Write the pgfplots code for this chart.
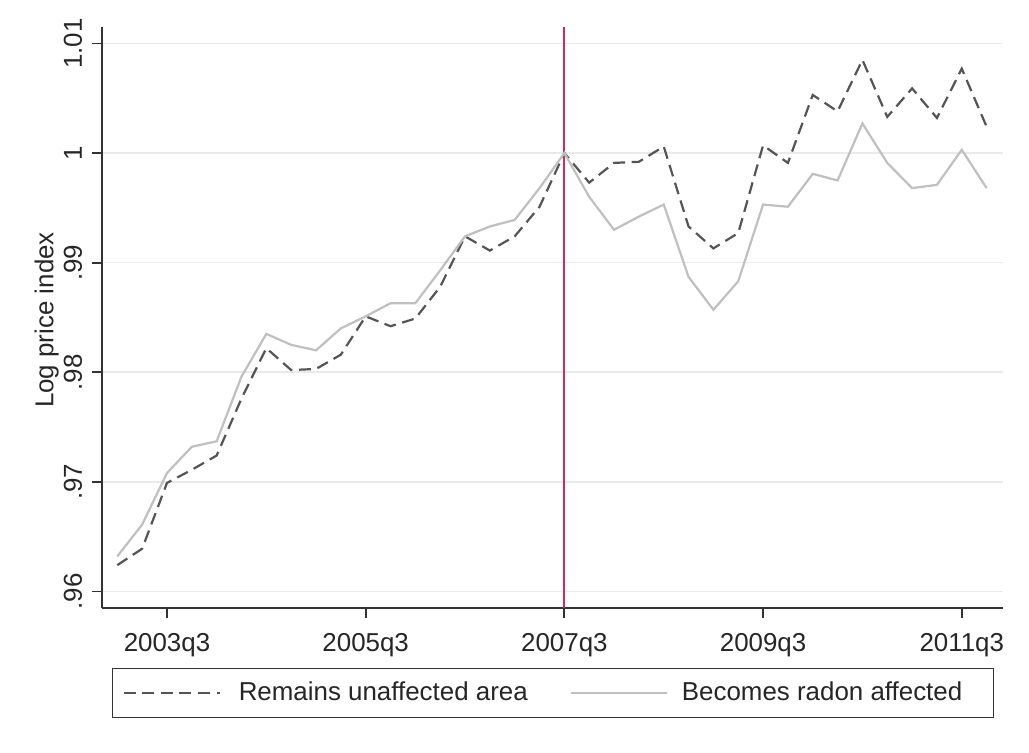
\documentclass[border=0pt]{standalone}
\usepackage{fontspec}
\setmainfont{Liberation Sans}
\usepackage{pgfplots}
\usepackage{pgfplotstable}
\pgfplotsset{compat=1.18}
\definecolor{dashc}{RGB}{85,85,85}
\definecolor{solidc}{RGB}{192,192,192}
\definecolor{vlinec}{RGB}{208,40,100}
\definecolor{axisc}{RGB}{50,50,50}
\definecolor{gridc}{RGB}{234,234,234}

\pgfplotstableread{
t una aff
0 0.9624 0.9632
1 0.9639 0.9661
2 0.9699 0.9708
3 0.9711 0.9732
4 0.9724 0.9737
5 0.9776 0.9796
6 0.9822 0.9835
7 0.9802 0.9825
8 0.9803 0.9820
9 0.9816 0.9840
10 0.9851 0.9851
11 0.9842 0.9863
12 0.9849 0.9863
13 0.9878 0.9893
14 0.9924 0.9924
15 0.9911 0.9933
16 0.9924 0.9939
17 0.9951 0.9968
18 1.0000 1.0000
19 0.9973 0.9960
20 0.9991 0.9930
21 0.9992 0.9942
22 1.0006 0.9953
23 0.9933 0.9887
24 0.9913 0.9857
25 0.9927 0.9883
26 1.0007 0.9953
27 0.9991 0.9951
28 1.0053 0.9981
29 1.0038 0.9975
30 1.0085 1.0027
31 1.0033 0.9991
32 1.0059 0.9968
33 1.0032 0.9971
34 1.0077 1.0003
35 1.0024 0.9968
}\data

\begin{document}
\begin{tikzpicture}
\useasboundingbox[fill=white] (-51bp,-72.5bp) rectangle (463.5bp,304bp);
\begin{axis}[
  scale only axis, width=450.5bp, height=290.5bp,
  xmin=-0.616, xmax=35.66, ymin=0.95849, ymax=1.0115,
  axis lines*=left,
  axis line style={color=axisc, line width=0.9bp},
  tick align=outside, major tick length=5bp,
  tick style={color=axisc, line width=0.9bp},
  xtick={2,10,18,26,34},
  xticklabels={2003q3,2005q3,2007q3,2009q3,2011q3},
  ytick={0.96,0.97,0.98,0.99,1,1.01},
  yticklabels={.96,.97,.98,.99,1,1.01},
  minor tick num=0,
  ymajorgrids, grid style={color=gridc, line width=0.75bp},
  ticklabel style={font=\fontsize{13}{15}\selectfont, text=black!85},
  xticklabel style={anchor=base, yshift=-16.5bp},
  yticklabel style={xshift=-5bp, rotate=90, anchor=base},
  ylabel={Log price index},
  ylabel style={at={(axis description cs:-0.05383,0.4957)}, anchor=base, font=\fontsize{13}{15}\selectfont, text=black!85},
  legend columns=2,
  legend image code/.code={\draw[#1] (0bp,0bp) -- (48bp,0bp);},
  legend style={at={(axis description cs:0.0111,-0.10327)}, anchor=north west,
    draw=black!80, line width=0.6bp, fill=white, inner xsep=5bp, inner ysep=6.75bp,
    font=\fontsize{13}{15}\selectfont, text=black!85, nodes={inner sep=0pt},
    /tikz/column 1/.style={column sep=9bp},
    /tikz/column 2/.style={column sep=21bp},
    /tikz/column 3/.style={column sep=7bp}},
]
\addplot[forget plot, color=vlinec, line width=1bp] coordinates {(18,0.95849) (18,1.0115)};
\addplot[color=dashc, line width=1.1bp, dash pattern=on 6bp off 3.3bp] table[x=t, y=una] {\data};
\addlegendentry{Remains unaffected area}
\addplot[color=solidc, line width=1.1bp] table[x=t, y=aff] {\data};
\addlegendentry{Becomes radon affected\hspace*{10.5bp}}
\end{axis}
\end{tikzpicture}
\end{document}
